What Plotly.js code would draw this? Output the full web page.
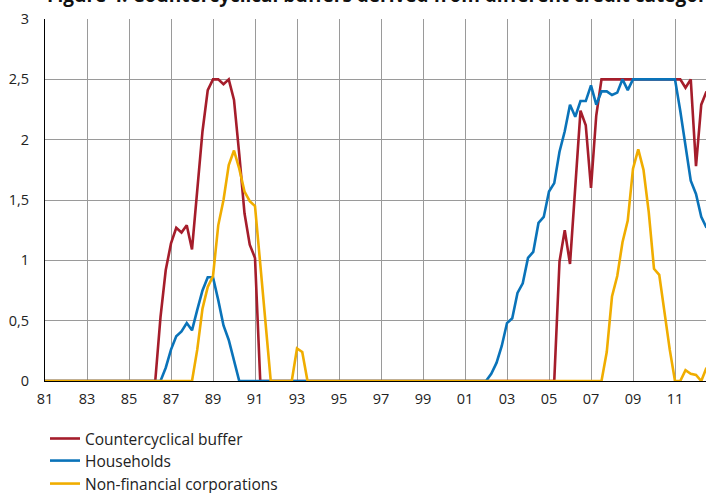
<!DOCTYPE html>
<html>
<head>
<meta charset="utf-8">
<script src="https://cdn.plot.ly/plotly-3.0.1.min.js"></script>
<style>html,body{margin:0;padding:0;background:#fff;}#chart{width:706px;height:493px;}</style>
</head>
<body>
<div id="chart"></div>
<script>
// Quarterly data, first quarter 1981Q1
const startYear = 1981;
const countercyclicalBuffer = [
  0,0,0,0,0,0,0,0,0,0,
  0,0,0,0,0,0,0,0,0,0,
  0,0,0.53,0.92,1.14,1.27,1.23,1.29,1.09,1.58,
  2.07,2.41,2.5,2.5,2.46,2.5,2.33,1.88,1.39,1.13,
  1.02,0,0,0,0,0,0,0,0,0,
  0,0,0,0,0,0,0,0,0,0,
  0,0,0,0,0,0,0,0,0,0,
  0,0,0,0,0,0,0,0,0,0,
  0,0,0,0,0,0,0,0,0,0,
  0,0,0,0,0,0,0,0,0.99,1.25,
  0.97,1.62,2.24,2.12,1.6,2.2,2.5,2.5,2.5,2.5,
  2.5,2.5,2.5,2.5,2.5,2.5,2.5,2.5,2.5,2.5,
  2.5,2.5,2.43,2.5,1.78,2.29,2.4
];
const households = [
  0,0,0,0,0,0,0,0,0,0,
  0,0,0,0,0,0,0,0,0,0,
  0,0,0,0.11,0.26,0.37,0.41,0.48,0.42,0.59,
  0.75,0.86,0.86,0.67,0.46,0.34,0.17,0,0,0,
  0,0,0,0,0,0,0,0,0,0,
  0,0,0,0,0,0,0,0,0,0,
  0,0,0,0,0,0,0,0,0,0,
  0,0,0,0,0,0,0,0,0,0,
  0,0,0,0,0,0.06,0.15,0.29,0.48,0.52,
  0.73,0.81,1.02,1.07,1.31,1.36,1.57,1.64,1.9,2.07,
  2.29,2.19,2.32,2.32,2.45,2.29,2.4,2.4,2.37,2.39,
  2.5,2.41,2.5,2.5,2.5,2.5,2.5,2.5,2.5,2.5,
  2.5,2.24,1.95,1.66,1.55,1.36,1.27
];
const nonFinancialCorporations = [
  0,0,0,0,0,0,0,0,0,0,
  0,0,0,0,0,0,0,0,0,0,
  0,0,0,0,0,0,0,0,0,0.26,
  0.6,0.78,0.87,1.29,1.5,1.79,1.91,1.76,1.57,1.49,
  1.45,0.97,0.48,0,0,0,0,0,0.27,0.24,
  0,0,0,0,0,0,0,0,0,0,
  0,0,0,0,0,0,0,0,0,0,
  0,0,0,0,0,0,0,0,0,0,
  0,0,0,0,0,0,0,0,0,0,
  0,0,0,0,0,0,0,0,0,0,
  0,0,0,0,0,0,0,0.24,0.7,0.87,
  1.15,1.33,1.76,1.92,1.75,1.4,0.93,0.88,0.57,0.26,
  0,0,0.09,0.06,0.05,0,0.11
];
const xTickValues = [1981,1983,1985,1987,1989,1991,1993,1995,1997,1999,2001,2003,2005,2007,2009,2011];
const xTickLabels = ['81','83','85','87','89','91','93','95','97','99','01','03','05','07','09','11'];
const yTickValues = [0,0.5,1,1.5,2,2.5,3];
const seriesNames = ['Countercyclical buffer','Households','Non-financial corporations'];
const titleText = 'Figure 4. Countercyclical buffers derived from different credit categories';

const quarters = countercyclicalBuffer.map((_, i) => startYear + i / 4);
const colors = ['#A51D2B', '#0A73B9', '#F0AD00'];
const series = [countercyclicalBuffer, households, nonFinancialCorporations];
const legendIds = ['legend', 'legend2', 'legend3'];

const traces = series.map((vals, i) => ({
  type: 'scatter', mode: 'lines', x: quarters, y: vals, name: seriesNames[i],
  line: {color: colors[i], width: 2.6}, legend: legendIds[i], hoverinfo: 'skip'
}));

const font = 'Open Sans, Noto Sans, sans-serif';
const legendStyle = (yPos) => ({
  x: 0, xanchor: 'left', y: yPos, yanchor: 'middle', orientation: 'v',
  font: {family: font, size: 15.5, color: '#222'},
  bgcolor: 'rgba(0,0,0,0)', itemwidth: 30
});
const layout = {
  width: 706, height: 493,
  margin: {l: 45, r: 0, t: 19, b: 112, autoexpand: false},
  paper_bgcolor: '#fff', plot_bgcolor: '#fff',
  separators: ',.',
  showlegend: true,
  font: {family: font, size: 14, color: '#222'},
  xaxis: {
    range: [1981, 1981 + 661 / 21], tickvals: xTickValues, ticktext: xTickLabels,
    showgrid: true, gridcolor: '#9a9a9a', gridwidth: 1, zeroline: false,
    showline: true, linecolor: '#000', linewidth: 1, ticks: '', layer: 'below traces',
    ticklabelstandoff: 5, tickfont: {family: font, size: 14.5, color: '#222'}, fixedrange: true
  },
  yaxis: {
    range: [0, 3], tickvals: yTickValues, showgrid: true, gridcolor: '#9a9a9a', gridwidth: 1,
    zeroline: false, showline: true, linecolor: '#000', linewidth: 1, ticks: '',
    layer: 'below traces', ticklabelstandoff: 12, tickfont: {family: font, size: 14.5, color: '#222'}, fixedrange: true
  },
  legend: legendStyle(-0.160),
  legend2: legendStyle(-0.221),
  legend3: legendStyle(-0.2845),
  annotations: [{
    text: '<b>' + titleText + '</b>', xref: 'paper', yref: 'paper', x: 0, y: 1,
    xanchor: 'left', yanchor: 'bottom', yshift: 9, showarrow: false,
    font: {family: font, size: 19, color: '#111'}
  }]
};
Plotly.newPlot('chart', traces, layout, {displayModeBar: false, staticPlot: true});
</script>
</body>
</html>
